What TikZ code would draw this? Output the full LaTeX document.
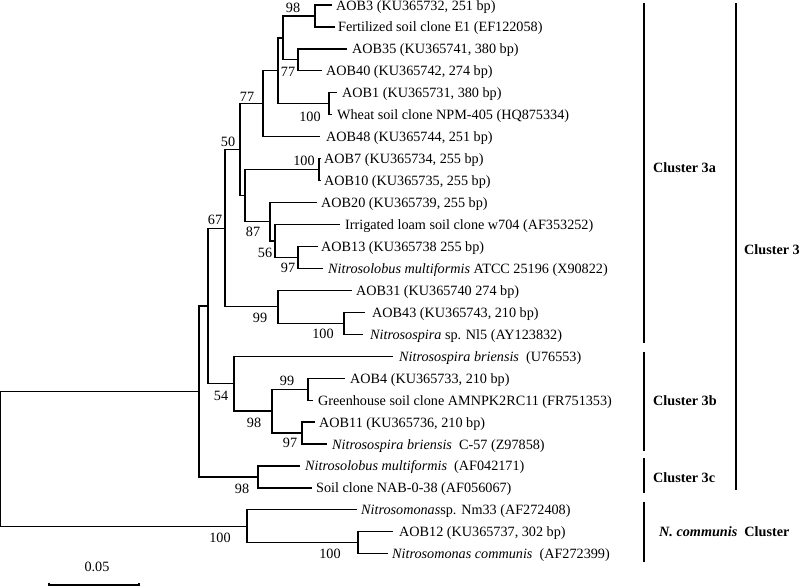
\documentclass[tikz,border=0pt]{standalone}
\usepackage{fontspec}
\setmainfont{Liberation Serif}
\begin{document}
\begin{tikzpicture}[x=1pt,y=-1pt,
  br/.style={line width=1.2pt},
  bar/.style={line width=2.2pt},
  leaf/.style={anchor=base west,inner sep=0pt,font=\fontsize{14.2}{16}\selectfont},
  boot/.style={anchor=center,inner sep=0pt,font=\fontsize{14.2}{16}\selectfont},
  clab/.style={anchor=west,inner sep=0pt,font=\fontsize{14.2}{16}\selectfont\bfseries}]
\useasboundingbox (0,0) rectangle (800,587);
% internal nodes
\coordinate (n1) at (315,15.98);
\coordinate (n2) at (298,59.88);
\coordinate (C) at (283,37.93);
\coordinate (n3) at (329,103.78);
\coordinate (B) at (278,70.85);
\coordinate (A) at (263,103.78);
\coordinate (n4) at (319,169.63);
\coordinate (n5) at (298,257.43);
\coordinate (G) at (275,240.96);
\coordinate (F) at (270,221.76);
\coordinate (E) at (245,195.69);
\coordinate (D) at (240,149.73);
\coordinate (n6) at (344,323.28);
\coordinate (I) at (278,306.81);
\coordinate (K) at (225,228.27);
\coordinate (n7) at (308,389.13);
\coordinate (n8) at (302,433.03);
\coordinate (N) at (272,411.08);
\coordinate (M) at (234,383.64);
\coordinate (L) at (208,305.96);
\coordinate (Q) at (258,476.93);
\coordinate (R) at (199,391.44);
\coordinate (T) at (358,542.78);
\coordinate (S) at (247,526.31);
\coordinate (root) at (0.6,458.88);
% leaf tips
\coordinate (l1) at (332,5);
\coordinate (l2) at (335,26.95);
\coordinate (l3) at (347,48.9);
\coordinate (l4) at (322,70.85);
\coordinate (l5) at (337,92.8);
\coordinate (l6) at (332,114.75);
\coordinate (l7) at (320,136.7);
\coordinate (l8) at (321,158.65);
\coordinate (l9) at (321,180.6);
\coordinate (l10) at (317,202.55);
\coordinate (l11) at (340,224.5);
\coordinate (l12) at (318,246.45);
\coordinate (l13) at (323,268.4);
\coordinate (l14) at (352,290.35);
\coordinate (l15) at (365,312.3);
\coordinate (l16) at (363,334.25);
\coordinate (l17) at (393,356.2);
\coordinate (l18) at (345,378.15);
\coordinate (l19) at (313,400.1);
\coordinate (l20) at (315,422.05);
\coordinate (l21) at (327,444);
\coordinate (l22) at (300,465.95);
\coordinate (l23) at (312,487.9);
\coordinate (l24) at (357,509.85);
\coordinate (l25) at (393,531.8);
\coordinate (l26) at (388,553.75);
% branches
\draw[br] (n1) |- (l1); \draw[br] (n1) |- (l2);
\draw[br] (n2) |- (l3); \draw[br] (n2) |- (l4);
\draw[br] (C) |- (n1); \draw[br] (C) |- (n2);
\draw[br] (n3) |- (l5); \draw[br] (n3) |- (l6);
\draw[br] (B) |- (C); \draw[br] (B) |- (n3);
\draw[br] (A) |- (B); \draw[br] (A) |- (l7);
\draw[br] (D) |- (A); \draw[br] (D) |- (E);
\draw[br] (n4) |- (l8); \draw[br] (n4) |- (l9);
\draw[br] (E) |- (n4); \draw[br] (E) |- (F);
\draw[br] (F) |- (l10); \draw[br] (F) |- (G);
\draw[br] (G) |- (l11); \draw[br] (G) |- (n5);
\draw[br] (n5) |- (l12); \draw[br] (n5) |- (l13);
\draw[br] (K) |- (D); \draw[br] (K) |- (I);
\draw[br] (I) |- (l14); \draw[br] (I) |- (n6);
\draw[br] (n6) |- (l15); \draw[br] (n6) |- (l16);
\draw[br] (L) |- (K); \draw[br] (L) |- (M);
\draw[br] (M) |- (l17); \draw[br] (M) |- (N);
\draw[br] (N) |- (n7); \draw[br] (N) |- (n8);
\draw[br] (n7) |- (l18); \draw[br] (n7) |- (l19);
\draw[br] (n8) |- (l20); \draw[br] (n8) |- (l21);
\draw[br] (R) |- (L); \draw[br] (R) |- (Q);
\draw[br] (Q) |- (l22); \draw[br] (Q) |- (l23);
\draw[br] (root) |- (R); \draw[br] (root) |- (S);
\draw[br] (S) |- (l24); \draw[br] (S) |- (T);
\draw[br] (T) |- (l25); \draw[br] (T) |- (l26);
% leaf labels
\node[leaf] (t1) at (336,10.5) {AOB3 (KU365732, 251 bp)};
\node[leaf] (t2) at (338,31.95) {Fertilized soil clone E1 (EF122058)};
\node[leaf] (t3) at (352,53.9) {AOB35 (KU365741, 380 bp)};
\node[leaf] (t4) at (326,75.85) {AOB40 (KU365742, 274 bp)};
\node[leaf] (t5) at (342,97.8) {AOB1 (KU365731, 380 bp)};
\node[leaf] (t6) at (337,119.75) {Wheat soil clone NPM-405 (HQ875334)};
\node[leaf] (t7) at (326,141.7) {AOB48 (KU365744, 251 bp)};
\node[leaf] (t8) at (324,163.65) {AOB7 (KU365734, 255 bp)};
\node[leaf] (t9) at (324,185.6) {AOB10 (KU365735, 255 bp)};
\node[leaf] (t10) at (321,207.55) {AOB20 (KU365739, 255 bp)};
\node[leaf] (t11) at (345,229.5) {Irrigated loam soil clone w704 (AF353252)};
\node[leaf] (t12) at (321,251.45) {AOB13 (KU365738 255 bp)};
\node[leaf] (t13) at (328,273.4) {\textit{Nitrosolobus multiformis} ATCC 25196 (X90822)};
\node[leaf] (t14) at (356,295.35) {AOB31 (KU365740 274 bp)};
\node[leaf] (t15) at (372,317.3) {AOB43 (KU365743, 210 bp)};
\node[leaf] (t16) at (370,339.25) {\textit{Nitrosospira} sp. Nl5 (AY123832)};
\node[leaf] (t17) at (399,361.2) {\textit{Nitrosospira briensis}\ \ (U76553)};
\node[leaf] (t18) at (350,383.15) {AOB4 (KU365733, 210 bp)};
\node[leaf] (t19) at (318,405.1) {Greenhouse soil clone AMNPK2RC11 (FR751353)};
\node[leaf] (t20) at (319,427.05) {AOB11 (KU365736, 210 bp)};
\node[leaf] (t21) at (332,449) {\textit{Nitrosospira briensis}\ \ C-57 (Z97858)};
\node[leaf] (t22) at (305,470.95) {\textit{Nitrosolobus multiformis}\ \ (AF042171)};
\node[leaf] (t23) at (316,492.9) {Soil clone NAB-0-38 (AF056067)};
\node[leaf] (t24) at (361,514.85) {\textit{Nitrosomonas}sp. Nm33 (AF272408)};
\node[leaf] (t25) at (399,536.8) {AOB12 (KU365737, 302 bp)};
\node[leaf] (t26) at (392,558.75) {\textit{Nitrosomonas communis}\ \ (AF272399)};
% bootstrap values
\node[boot] (b1) at (293,8) {98};
\node[boot] (b2) at (288,72) {77};
\node[boot] (b3) at (310,117) {100};
\node[boot] (b4) at (247,97) {77};
\node[boot] (b5) at (228,142) {50};
\node[boot] (b6) at (304,161) {100};
\node[boot] (b7) at (215,220) {67};
\node[boot] (b8) at (253,232) {87};
\node[boot] (b9) at (265,253) {56};
\node[boot] (b10) at (288,268) {97};
\node[boot] (b11) at (260,318) {99};
\node[boot] (b12) at (323,334) {100};
\node[boot] (b13) at (221,396) {54};
\node[boot] (b14) at (287,381) {99};
\node[boot] (b15) at (254,423) {98};
\node[boot] (b16) at (290,443) {97};
\node[boot] (b17) at (242,489) {98};
\node[boot] (b18) at (220,538) {100};
\node[boot] (b19) at (330,554) {100};
% scale bar
\coordinate (s1) at (49,585);
\coordinate (s2) at (139,585);
\draw[br] ([yshift=2.5pt]s1) -- (s1) -- (s2) -- ([yshift=2.5pt]s2);
\node[boot] (sl) at (97,567) {0.05};
% cluster bars
\coordinate (c3aT) at (644,3); \coordinate (c3aB) at (644,343);
\coordinate (c3bT) at (644,352); \coordinate (c3bB) at (644,451);
\coordinate (c3cT) at (644,458); \coordinate (c3cB) at (644,493);
\coordinate (cnT) at (644,502); \coordinate (cnB) at (644,562);
\coordinate (c3T) at (736,3); \coordinate (c3B) at (736,490);
\draw[bar] (c3aT) -- (c3aB);
\draw[bar] (c3bT) -- (c3bB);
\draw[bar] (c3cT) -- (c3cB);
\draw[bar] (cnT) -- (cnB);
\draw[bar] (c3T) -- (c3B);
\node[clab] (k3a) at (653,168) {Cluster 3a};
\node[clab] (k3b) at (653,401) {Cluster 3b};
\node[clab] (k3c) at (653,478) {Cluster 3c};
\node[clab] (kn) at (659,532) {\textit{N. communis}\ \ Cluster};
\node[clab] (k3) at (744,250) {Cluster 3};
\end{tikzpicture}
\end{document}
